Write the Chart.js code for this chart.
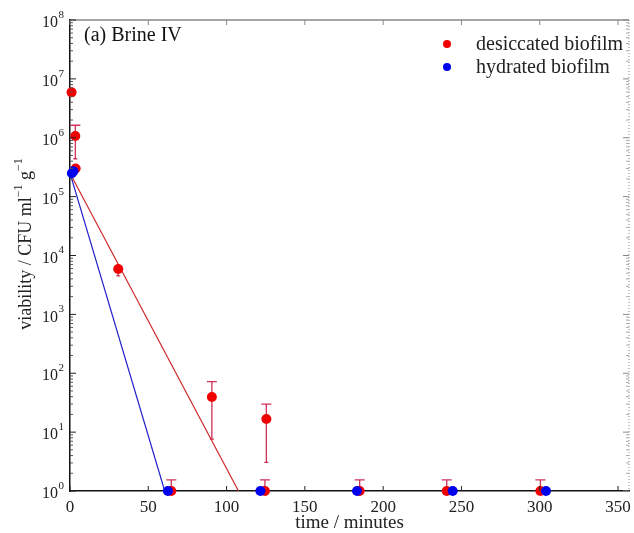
<!DOCTYPE html>
<html>
<head>
<meta charset="utf-8">
<script src="https://cdn.jsdelivr.net/npm/chart.js@4"></script>
<style>
  html, body { margin: 0; padding: 0; background: #fff; }
  #wrap { width: 634px; height: 533px; position: relative; }
</style>
</head>
<body>
<div id="wrap"><canvas id="chart"></canvas></div>
<script>
"use strict";

// desiccated biofilm (red)
const desTime = [1, 3.4, 3.6, 30.8, 64.7, 90.6, 124.5, 125.4, 185, 240.6, 300.4];
const desViability = [5.9e6, 1.07e6, 3.0e5, 5.9e3, 1, 39.5, 1, 16.7, 1, 1, 1];
const desErrHigh = [null, 1.63e6, null, null, 1.54, 72, 1.54, 30, 1.54, 1.54, 1.54];
const desErrLow = [null, 4.4e5, null, 4.5e3, null, 7.6, null, 3.07, null, null, null];

// hydrated biofilm (blue)
const hydTime = [1.2, 2.2, 62.5, 121.6, 183.3, 244.4, 304];
const hydViability = [2.5e5, 2.7e5, 1, 1, 1, 1, 1];

// exponential fits
const desFitTime = [0, 107.6];
const desFitViability = [2.5e5, 1];
const hydFitTime = [0, 60.5];
const hydFitViability = [2.5e5, 1];

const xTicks = [0, 50, 100, 150, 200, 250, 300, 350];
const yDecades = [0, 1, 2, 3, 4, 5, 6, 7, 8];

const SERIF = '"Liberation Serif", "DejaVu Serif", serif';
const RED = '#f00000';
const BLUE = '#0000f0';

const toPoints = (xs, ys) => xs.map((x, i) => ({ x: x, y: ys[i] }));

const extras = {
  id: 'extras',
  beforeDatasetsDraw(chart) {
    const ctx = chart.ctx;
    const xs = chart.scales.x, ys = chart.scales.y;
    ctx.save();
    ctx.strokeStyle = '#d0305a';
    ctx.lineWidth = 1.3;
    desTime.forEach((t, i) => {
      const px = xs.getPixelForValue(t);
      const py = ys.getPixelForValue(desViability[i]);
      if (desErrHigh[i] != null) {
        const hy = ys.getPixelForValue(desErrHigh[i]);
        ctx.beginPath();
        ctx.moveTo(px, py); ctx.lineTo(px, hy);
        ctx.moveTo(px - 5, hy); ctx.lineTo(px + 5, hy);
        ctx.stroke();
      }
      if (desErrLow[i] != null) {
        const ly = ys.getPixelForValue(desErrLow[i]);
        ctx.beginPath();
        ctx.moveTo(px, py); ctx.lineTo(px, ly);
        ctx.moveTo(px - 2, ly); ctx.lineTo(px + 2, ly);
        ctx.stroke();
      }
    });
    ctx.restore();
  },
  afterDraw(chart) {
    const ctx = chart.ctx;
    const a = chart.chartArea;
    const xs = chart.scales.x, ys = chart.scales.y;
    ctx.save();

    // top and right frame
    ctx.strokeStyle = '#888';
    ctx.lineWidth = 1.5;
    ctx.beginPath();
    ctx.moveTo(a.left, a.top); ctx.lineTo(a.right, a.top);
    ctx.stroke();
    ctx.lineWidth = 1;
    ctx.setLineDash([1, 2]);
    ctx.beginPath();
    ctx.moveTo(a.right, a.top); ctx.lineTo(a.right, a.bottom);
    ctx.stroke();
    ctx.setLineDash([]);

    // x ticks (bottom inward, top inward)
    xTicks.forEach(v => {
      const px = xs.getPixelForValue(v);
      ctx.strokeStyle = '#222';
      ctx.beginPath(); ctx.moveTo(px, a.bottom); ctx.lineTo(px, a.bottom - 5); ctx.stroke();
      ctx.strokeStyle = '#888';
      ctx.beginPath(); ctx.moveTo(px, a.top); ctx.lineTo(px, a.top + 5); ctx.stroke();
    });

    // y ticks, major and minor, both sides
    yDecades.forEach(d => {
      const py = ys.getPixelForValue(Math.pow(10, d));
      ctx.strokeStyle = '#222';
      ctx.beginPath(); ctx.moveTo(a.left, py); ctx.lineTo(a.left + 6, py); ctx.stroke();
      ctx.strokeStyle = '#888';
      ctx.beginPath(); ctx.moveTo(a.right, py); ctx.lineTo(a.right - 6, py); ctx.stroke();
      if (d < 8) {
        for (let m = 2; m <= 9; m++) {
          const my = ys.getPixelForValue(m * Math.pow(10, d));
          ctx.strokeStyle = '#555';
          ctx.beginPath(); ctx.moveTo(a.left, my); ctx.lineTo(a.left + 3, my); ctx.stroke();
          ctx.strokeStyle = '#aaa';
          ctx.beginPath(); ctx.moveTo(a.right, my); ctx.lineTo(a.right - 3, my); ctx.stroke();
        }
      }
      // label 10^d
      ctx.fillStyle = '#222';
      ctx.textBaseline = 'middle';
      ctx.textAlign = 'right';
      ctx.font = '11px ' + SERIF;
      const ew = ctx.measureText(String(d)).width;
      ctx.fillText(String(d), 64, py - 5);
      ctx.font = '16px ' + SERIF;
      ctx.fillText('10', 64 - ew - 0.5, py + 3);
    });

    // x title
    ctx.fillStyle = '#222';
    ctx.textAlign = 'center';
    ctx.textBaseline = 'middle';
    ctx.font = '19px ' + SERIF;
    ctx.fillText('time / minutes', (a.left + a.right) / 2, 523);

    // panel label
    ctx.fillStyle = '#111';
    ctx.textAlign = 'left';
    ctx.font = '20px ' + SERIF;
    ctx.fillText('(a) Brine IV', 84, 36);

    // legend
    const legend = [['desiccated biofilm', RED, 44], ['hydrated biofilm', BLUE, 67]];
    legend.forEach(([label, color, y]) => {
      ctx.fillStyle = color;
      ctx.beginPath(); ctx.arc(447, y, 4, 0, Math.PI * 2); ctx.fill();
      ctx.fillStyle = '#222';
      ctx.font = '20px ' + SERIF;
      ctx.fillText(label, 476, y + 1);
    });

    // y title with superscripts
    const parts = [['viability / CFU ml', false], ['\u22121', true], [' g', false], ['\u22121', true]];
    const fontFor = sup => (sup ? '12px ' : '18px ') + SERIF;
    let total = 0;
    parts.forEach(([t, sup]) => { ctx.font = fontFor(sup); total += ctx.measureText(t).width; });
    ctx.translate(26, 244);
    ctx.rotate(-Math.PI / 2);
    let cx = -total / 2;
    ctx.textAlign = 'left';
    ctx.textBaseline = 'middle';
    parts.forEach(([t, sup]) => {
      ctx.font = fontFor(sup);
      ctx.fillText(t, cx, sup ? -7 : 0);
      cx += ctx.measureText(t).width;
    });
    ctx.restore();
  }
};

new Chart(document.getElementById('chart'), {
  type: 'scatter',
  data: {
    datasets: [
      {
        label: 'desiccated fit',
        data: toPoints(desFitTime, desFitViability),
        showLine: true,
        borderColor: '#d02a2a',
        borderWidth: 1.2,
        pointRadius: 0,
        order: 4
      },
      {
        label: 'hydrated fit',
        data: toPoints(hydFitTime, hydFitViability),
        showLine: true,
        borderColor: '#2020c8',
        borderWidth: 1.2,
        pointRadius: 0,
        order: 3
      },
      {
        label: 'desiccated biofilm',
        data: toPoints(desTime, desViability),
        backgroundColor: RED,
        borderColor: RED,
        pointRadius: 5,
        borderWidth: 0,
        clip: false,
        order: 2
      },
      {
        label: 'hydrated biofilm',
        data: toPoints(hydTime, hydViability),
        backgroundColor: BLUE,
        borderColor: BLUE,
        pointRadius: 5,
        borderWidth: 0,
        clip: false,
        order: 1
      }
    ]
  },
  options: {
    responsive: true,
    maintainAspectRatio: false,
    animation: false,
    layout: { padding: { top: 20, right: 3, left: 0, bottom: 0 } },
    plugins: {
      legend: { display: false },
      tooltip: { enabled: false }
    },
    scales: {
      x: {
        type: 'linear',
        min: 0,
        max: 357,
        afterBuildTicks: s => { s.ticks = xTicks.map(v => ({ value: v })); },
        afterFit: s => { s.height = 42; },
        grid: { display: false },
        border: { color: '#111', width: 1.5 },
        ticks: { color: '#222', font: { family: SERIF, size: 17 }, padding: -2, maxRotation: 0 }
      },
      y: {
        type: 'logarithmic',
        min: 1,
        max: 1e8,
        afterBuildTicks: s => { s.ticks = yDecades.map(d => ({ value: Math.pow(10, d) })); },
        afterFit: s => { s.width = 70; },
        grid: { display: false },
        border: { color: '#111', width: 1.5 },
        ticks: { display: false }
      }
    }
  },
  plugins: [extras]
});
</script>
</body>
</html>
